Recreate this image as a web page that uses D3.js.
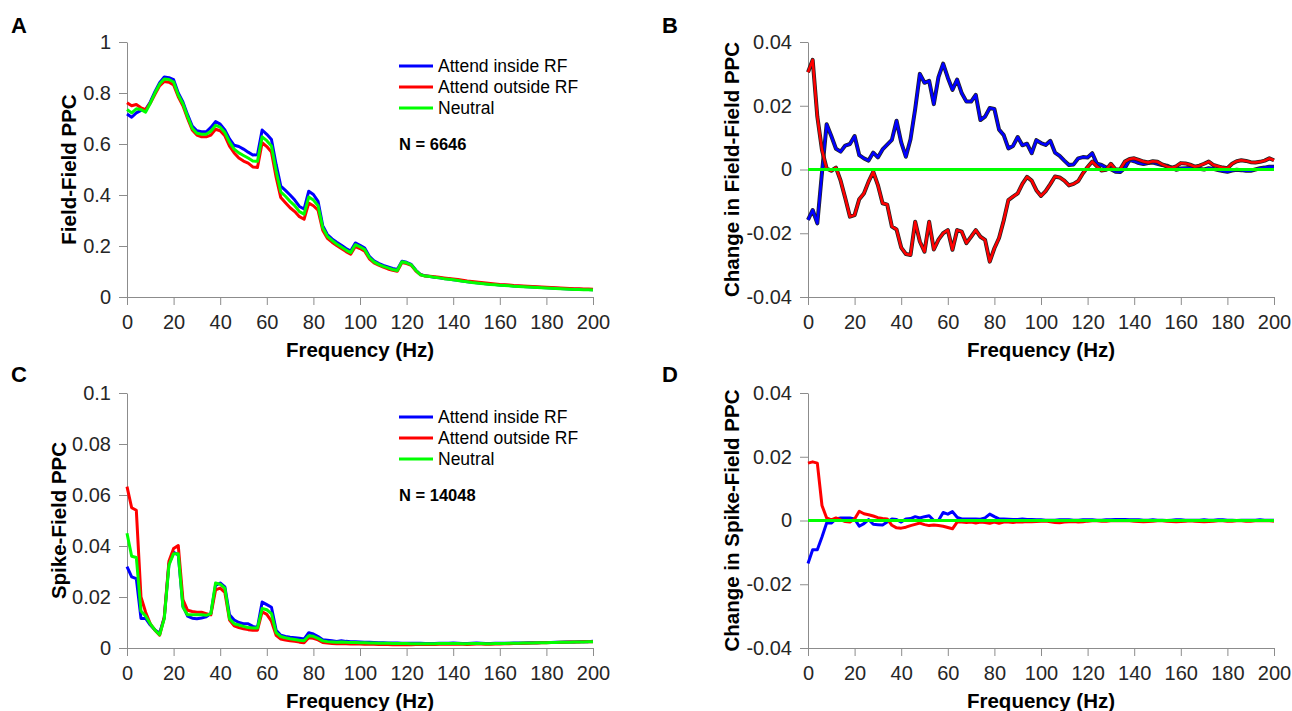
<!DOCTYPE html>
<html>
<head>
<meta charset="utf-8">
<script src="https://cdn.jsdelivr.net/npm/d3@7"></script>
<style>
  html, body { margin: 0; padding: 0; background: #fff; }
  svg { display: block; font-family: 'Liberation Sans', Arial, Helvetica, sans-serif; }
  .axis path, .axis line { stroke: #8c8c8c; stroke-width: 1; }
  .axis text { fill: #262626; font-size: 20px; font-family: 'Liberation Sans', Arial, Helvetica, sans-serif; }
  .title { font-weight: bold; font-size: 20.5px; fill: #000; }
  .letter { font-weight: bold; font-size: 22px; fill: #000; }
  .legend { font-size: 17.5px; fill: #000; }
  .count { font-weight: bold; font-size: 16.5px; fill: #000; }
</style>
</head>
<body>
<svg id="fig" width="1292" height="711"></svg>
<script>
// frequency axis (Hz)
const freqs = [
  0, 2, 4, 6, 8, 10, 12, 14, 16, 18, 20, 22, 24, 26, 28, 30, 32, 34, 36, 38,
  40, 42, 44, 46, 48, 50, 52, 54, 56, 58, 60, 62, 64, 66, 68, 70, 72, 74, 76, 78,
  80, 82, 84, 86, 88, 90, 92, 94, 96, 98, 100, 102, 104, 106, 108, 110, 112, 114, 116, 118,
  120, 122, 124, 126, 128, 130, 132, 134, 136, 138, 140, 142, 144, 146, 148, 150, 152, 154, 156, 158,
  160, 162, 164, 166, 168, 170, 172, 174, 176, 178, 180, 182, 184, 186, 188, 190, 192, 194, 196, 198, 200
]
const xTicks = [0, 20, 40, 60, 80, 100, 120, 140, 160, 180, 200]
const legendLabels = ['Attend inside RF', 'Attend outside RF', 'Neutral']

// A: field-field PPC
const ffInside = [
  0.718, 0.705, 0.722, 0.732, 0.735, 0.765, 0.805, 0.840, 0.863, 0.860,
  0.852, 0.800, 0.765, 0.715, 0.670, 0.652, 0.648, 0.648, 0.665, 0.688,
  0.678, 0.655, 0.620, 0.595, 0.590, 0.580, 0.568, 0.557, 0.558, 0.655,
  0.638, 0.618, 0.520, 0.435, 0.418, 0.400, 0.380, 0.355, 0.345, 0.415,
  0.402, 0.375, 0.280, 0.245, 0.228, 0.215, 0.203, 0.190, 0.180, 0.212,
  0.203, 0.192, 0.160, 0.142, 0.132, 0.124, 0.118, 0.112, 0.108, 0.140,
  0.136, 0.128, 0.105, 0.088, 0.083,
  0.080, 0.077, 0.075, 0.073, 0.071, 0.068, 0.066, 0.063, 0.060, 0.058,
  0.056, 0.054, 0.052, 0.050, 0.049, 0.047, 0.046, 0.045, 0.043, 0.042,
  0.041, 0.040, 0.039, 0.038, 0.037, 0.036, 0.035, 0.034, 0.033, 0.032,
  0.031, 0.030, 0.030, 0.029, 0.029, 0.028
]
const ffOutside = [
  0.762, 0.750, 0.755, 0.742, 0.735, 0.760, 0.795, 0.828, 0.845, 0.842,
  0.832, 0.785, 0.750, 0.700, 0.655, 0.635, 0.628, 0.628, 0.635, 0.658,
  0.652, 0.632, 0.592, 0.565, 0.545, 0.533, 0.525, 0.510, 0.508, 0.605,
  0.590, 0.568, 0.470, 0.390, 0.370, 0.350, 0.335, 0.315, 0.305, 0.368,
  0.358, 0.340, 0.262, 0.230, 0.215, 0.202, 0.190, 0.178, 0.168, 0.198,
  0.190, 0.180, 0.150, 0.134, 0.125, 0.117, 0.110, 0.105, 0.101, 0.135,
  0.131, 0.124, 0.102, 0.087, 0.082,
  0.081, 0.079, 0.077, 0.075, 0.073, 0.071, 0.069, 0.066, 0.063, 0.061,
  0.059, 0.057, 0.055, 0.053, 0.051, 0.049, 0.048, 0.047, 0.045, 0.044,
  0.043, 0.042, 0.041, 0.040, 0.039, 0.038, 0.037, 0.036, 0.035, 0.034,
  0.033, 0.032, 0.032, 0.031, 0.031, 0.030
]
const ffNeutral = [
  0.735, 0.722, 0.738, 0.735, 0.725, 0.760, 0.800, 0.835, 0.855, 0.853,
  0.843, 0.792, 0.758, 0.708, 0.662, 0.642, 0.638, 0.638, 0.650, 0.673,
  0.666, 0.645, 0.607, 0.580, 0.565, 0.555, 0.545, 0.533, 0.532, 0.628,
  0.613, 0.592, 0.495, 0.412, 0.395, 0.375, 0.358, 0.335, 0.325, 0.392,
  0.380, 0.358, 0.272, 0.238, 0.222, 0.208, 0.196, 0.184, 0.174, 0.205,
  0.197, 0.186, 0.155, 0.138, 0.128, 0.120, 0.114, 0.108, 0.104, 0.138,
  0.134, 0.126, 0.104, 0.087, 0.082,
  0.080, 0.077, 0.075, 0.072, 0.070, 0.068, 0.065, 0.062, 0.060, 0.057,
  0.055, 0.053, 0.051, 0.049, 0.048, 0.046, 0.045, 0.044, 0.042, 0.041,
  0.040, 0.039, 0.038, 0.037, 0.036, 0.035, 0.034, 0.033, 0.032, 0.031,
  0.030, 0.029, 0.029, 0.028, 0.028, 0.027
]

// B: change in field-field PPC
const ffChangeInside = [
  -0.0158, -0.0127, -0.0169, -0.0010, 0.0142, 0.0105, 0.0065, 0.0056, 0.0075, 0.0080,
  0.0105, 0.0045, 0.0035, 0.0028, 0.0053, 0.0038, 0.0063, 0.0078, 0.0093, 0.0153,
  0.0085, 0.0040, 0.0095, 0.0190, 0.0300, 0.0272, 0.0278, 0.0205, 0.0290, 0.0332,
  0.0288, 0.0250, 0.0282, 0.0239, 0.0213, 0.0213, 0.0234, 0.0155, 0.0166, 0.0193,
  0.0190, 0.0125, 0.0108, 0.0066, 0.0074, 0.0102, 0.0076, 0.0081, 0.0051, 0.0092,
  0.0083, 0.0077, 0.0090, 0.0053, 0.0043, 0.0028, 0.0014, 0.0016, 0.0035, 0.0039,
  0.0038, 0.0051, 0.0018, 0.0014, 0.0006, 0.0001, -0.0007, -0.0008, 0.0005, 0.0030,
  0.0026, 0.0020, 0.0017, 0.0020, 0.0022, 0.0018, 0.0014, 0.0012, 0.0006, -0.0001,
  0.0003, 0.0004, 0.0005, 0.0004, 0.0002, 0.0000, 0.0004, 0.0002, -0.0002, -0.0005,
  -0.0007, -0.0003, -0.0001, -0.0002, -0.0004, -0.0004, 0.0000, 0.0004, 0.0006, 0.0009, 0.0009
]
const ffChangeOutside = [
  0.0305, 0.0344, 0.0166, 0.0061, 0.0003, -0.0004, 0.0006, -0.0035, -0.0090, -0.0148,
  -0.0143, -0.0093, -0.0075, -0.0038, -0.0007, -0.0049, -0.0106, -0.0110, -0.0179, -0.0188,
  -0.0245, -0.0265, -0.0268, -0.0164, -0.0226, -0.0258, -0.0164, -0.0251, -0.0220, -0.0200,
  -0.0190, -0.0252, -0.0190, -0.0195, -0.0231, -0.0211, -0.0190, -0.0211, -0.0221, -0.0289,
  -0.0247, -0.0215, -0.0160, -0.0096, -0.0085, -0.0075, -0.0045, -0.0023, -0.0035, -0.0065,
  -0.0083, -0.0068, -0.0046, -0.0022, -0.0025, -0.0035, -0.0050, -0.0045, -0.0036, -0.0012,
  0.0008, 0.0025, 0.0010, -0.0003, -0.0001, 0.0018, 0.0000, 0.0001, 0.0025, 0.0033,
  0.0035, 0.0030, 0.0025, 0.0022, 0.0026, 0.0024, 0.0016, 0.0010, 0.0005, 0.0010,
  0.0020, 0.0019, 0.0015, 0.0009, 0.0012, 0.0018, 0.0025, 0.0014, 0.0010, 0.0006,
  0.0004, 0.0018, 0.0026, 0.0029, 0.0027, 0.0023, 0.0022, 0.0024, 0.0028, 0.0035, 0.0029
]

// C: spike-field PPC
const sfInside = [
  0.0319, 0.0279, 0.0272, 0.0116, 0.0116, 0.0090, 0.0071, 0.0058, 0.0120, 0.0330,
  0.0375, 0.0365, 0.0165, 0.0125, 0.0117, 0.0115, 0.0118, 0.0122, 0.0135, 0.0245,
  0.0255, 0.0240, 0.0130, 0.0110, 0.0100, 0.0095, 0.0095, 0.0085, 0.0080, 0.0180,
  0.0170, 0.0160, 0.0070, 0.0050, 0.0045, 0.0042, 0.0040, 0.0038, 0.0035, 0.0060,
  0.0055, 0.0045, 0.0032,
  0.0030, 0.0028, 0.0026, 0.0028, 0.0026, 0.0025, 0.0025, 0.0024, 0.0023, 0.0023,
  0.0022, 0.0021, 0.0021, 0.0020, 0.0020, 0.0020, 0.0019, 0.0019, 0.0019, 0.0019,
  0.0019, 0.0018, 0.0018, 0.0018, 0.0019, 0.0019, 0.0019, 0.0020, 0.0019, 0.0018,
  0.0018, 0.0019, 0.0020, 0.0019, 0.0018, 0.0018, 0.0019, 0.0019, 0.0019, 0.0019,
  0.0020, 0.0020, 0.0020, 0.0021, 0.0021, 0.0021, 0.0022, 0.0022, 0.0022, 0.0023,
  0.0023, 0.0024, 0.0024, 0.0024, 0.0025, 0.0025, 0.0025, 0.0026
]
const sfOutside = [
  0.0633, 0.0550, 0.0540, 0.0200, 0.0140, 0.0095, 0.0070, 0.0050, 0.0120, 0.0340,
  0.0390, 0.0402, 0.0190, 0.0148, 0.0143, 0.0140, 0.0140, 0.0135, 0.0130, 0.0228,
  0.0235, 0.0218, 0.0110, 0.0087, 0.0080, 0.0075, 0.0072, 0.0070, 0.0070, 0.0142,
  0.0132, 0.0105, 0.0050, 0.0035, 0.0031, 0.0028, 0.0026, 0.0023, 0.0021, 0.0040,
  0.0038, 0.0032, 0.0022,
  0.0020, 0.0018, 0.0017, 0.0018, 0.0017, 0.0016, 0.0016, 0.0016, 0.0015, 0.0015,
  0.0015, 0.0014, 0.0014, 0.0014, 0.0013, 0.0013, 0.0013, 0.0013, 0.0013, 0.0014,
  0.0014, 0.0014, 0.0014, 0.0014, 0.0015, 0.0015, 0.0015, 0.0015, 0.0015, 0.0015,
  0.0014, 0.0015, 0.0016, 0.0016, 0.0015, 0.0015, 0.0016, 0.0016, 0.0017, 0.0017,
  0.0018, 0.0018, 0.0019, 0.0019, 0.0020, 0.0020, 0.0021, 0.0021, 0.0022, 0.0022,
  0.0023, 0.0023, 0.0024, 0.0024, 0.0024, 0.0025, 0.0025, 0.0025
]
const sfNeutral = [
  0.0450, 0.0360, 0.0355, 0.0145, 0.0125, 0.0095, 0.0070, 0.0052, 0.0115, 0.0325,
  0.0370, 0.0370, 0.0160, 0.0130, 0.0130, 0.0130, 0.0130, 0.0128, 0.0135, 0.0255,
  0.0250, 0.0235, 0.0115, 0.0095, 0.0090, 0.0085, 0.0080, 0.0078, 0.0078, 0.0155,
  0.0150, 0.0135, 0.0060, 0.0045, 0.0040, 0.0036, 0.0033, 0.0030, 0.0028, 0.0048,
  0.0046, 0.0038, 0.0028,
  0.0025, 0.0024, 0.0023, 0.0024, 0.0023, 0.0022, 0.0022, 0.0021, 0.0021, 0.0020,
  0.0020, 0.0019, 0.0019, 0.0019, 0.0018, 0.0018, 0.0018, 0.0018, 0.0017, 0.0017,
  0.0017, 0.0017, 0.0017, 0.0017, 0.0018, 0.0018, 0.0018, 0.0018, 0.0018, 0.0017,
  0.0017, 0.0018, 0.0018, 0.0018, 0.0017, 0.0017, 0.0018, 0.0018, 0.0018, 0.0019,
  0.0019, 0.0019, 0.0020, 0.0020, 0.0020, 0.0021, 0.0021, 0.0021, 0.0022, 0.0022,
  0.0023, 0.0023, 0.0023, 0.0024, 0.0024, 0.0024, 0.0025, 0.0025
]

// D: change in spike-field PPC
const sfChangeInside = [
  -0.0135, -0.0092, -0.0092, -0.0052, -0.0008, -0.0008, 0.0005, 0.0008, 0.0008, 0.0008,
  0.0005, -0.0018, -0.0010, 0.0003, -0.0012, -0.0013, -0.0014, -0.0005, 0.0005, 0.0003,
  -0.0005, 0.0005, 0.0006, 0.0012, 0.0008, 0.0012, 0.0015, 0.0000, 0.0000, 0.0025,
  0.0020, 0.0028, 0.0010, 0.0005, 0.0005, 0.0005, 0.0005, 0.0004, 0.0008, 0.0020,
  0.0012, 0.0005, 0.0005,
  0.0004, 0.0003, 0.0003, 0.0005, 0.0003, 0.0003, 0.0002, 0.0002, 0.0001, 0.0001,
  0.0001, 0.0002, 0.0002, 0.0002, 0.0001, 0.0001, 0.0002, 0.0002, 0.0002, 0.0001,
  0.0001, 0.0002, 0.0002, 0.0003, 0.0003, 0.0003, 0.0002, 0.0002, 0.0002, 0.0001,
  0.0001, 0.0002, 0.0001, 0.0001, 0.0000, 0.0001, 0.0002, 0.0002, 0.0001, 0.0001,
  0.0001, 0.0001, 0.0002, 0.0001, 0.0001, 0.0002, 0.0002, 0.0001, 0.0001, 0.0000,
  0.0001, 0.0001, 0.0001, 0.0001, 0.0002, 0.0001, 0.0001, 0.0001
]
const sfChangeOutside = [
  0.0180, 0.0184, 0.0180, 0.0047, 0.0008, 0.0002, 0.0008, 0.0002, -0.0003, -0.0005,
  0.0005, 0.0029, 0.0021, 0.0018, 0.0014, 0.0009, 0.0006, 0.0005, -0.0015, -0.0023,
  -0.0024, -0.0021, -0.0016, -0.0012, -0.0008, -0.0013, -0.0016, -0.0014, -0.0016, -0.0018,
  -0.0022, -0.0026, -0.0005, -0.0005, -0.0006, -0.0005, -0.0008, -0.0005, -0.0006, -0.0009,
  -0.0005, -0.0009, -0.0005,
  -0.0005, -0.0006, -0.0004, -0.0005, -0.0003, -0.0004, -0.0003, -0.0002, -0.0002, -0.0004,
  -0.0006, -0.0007, -0.0005, -0.0004, -0.0003, -0.0005, -0.0004, -0.0002, -0.0001, -0.0001,
  -0.0002, -0.0002, -0.0001, -0.0001, 0.0000, -0.0001, -0.0001, -0.0002, -0.0003, -0.0004,
  -0.0003, -0.0002, -0.0001, -0.0001, -0.0002, -0.0003, -0.0004, -0.0003, -0.0002, -0.0001,
  -0.0002, -0.0003, -0.0004, -0.0003, -0.0002, -0.0001, -0.0001, -0.0002, -0.0002, -0.0001,
  -0.0001, -0.0002, -0.0002, -0.0001, -0.0001, 0.0000, -0.0001, -0.0002
]

// neutral is the reference for the change panels
const neutralFreqs = [0, 200]
const neutralChange = [0, 0]

const colors = ['#0000ff', '#ff0000', '#00ff00']
const svg = d3.select('#fig')
const fmt = d => String(+d.toFixed(2))

function drawPanel(opt) {
  const x = d3.scaleLinear().domain([0, 200]).range([opt.left, opt.right]),
    y = d3.scaleLinear().domain(opt.yDomain).range([opt.bottom, opt.top]),
    g = svg.append('g')

  g.append('g')
    .attr('class', 'axis')
    .attr('transform', `translate(0,${opt.bottom})`)
    .call(d3.axisBottom(x).tickValues(xTicks).tickSize(8).tickSizeOuter(0).tickPadding(10).tickFormat(fmt))
  g.append('g')
    .attr('class', 'axis')
    .attr('transform', `translate(${opt.left},0)`)
    .call(d3.axisLeft(y).tickValues(opt.yTicks).tickSize(8).tickSizeOuter(0).tickPadding(8).tickFormat(fmt))

  const line = xs => d3.line()
    .x((d, i) => x(xs[i]))
    .y(d => y(d))

  opt.series.forEach((s, i) => {
    const xs = s.freqs || freqs,
      banded = opt.halo && !s.freqs
    // error band edges drawn as a dark halo
    if (banded) {
      g.append('path')
        .attr('d', line(xs)(s.values))
        .attr('fill', 'none')
        .attr('stroke', '#222')
        .attr('stroke-width', 4)
        .attr('stroke-linejoin', 'round')
    }
    g.append('path')
      .attr('d', line(xs)(s.values))
      .attr('fill', 'none')
      .attr('stroke', colors[i])
      .attr('stroke-width', banded ? 2.5 : 3)
      .attr('stroke-linejoin', 'round')
  })

  g.append('text')
    .attr('class', 'title')
    .attr('text-anchor', 'middle')
    .attr('x', (opt.left + opt.right) / 2)
    .attr('y', opt.bottom + 60)
    .text('Frequency (Hz)')
  g.append('text')
    .attr('class', 'title')
    .attr('text-anchor', 'middle')
    .attr('transform', `translate(${opt.yTitleX},${(opt.top + opt.bottom) / 2}) rotate(-90)`)
    .text(opt.yTitle)
  g.append('text')
    .attr('class', 'letter')
    .attr('x', opt.letterX)
    .attr('y', opt.letterY)
    .text(opt.letter)

  if (opt.legend) {
    const lg = g.append('g').attr('transform', `translate(${opt.legend[0]},${opt.legend[1]})`)
    legendLabels.forEach((label, i) => {
      lg.append('line')
        .attr('x1', 0).attr('x2', 34)
        .attr('y1', i * 21).attr('y2', i * 21)
        .attr('stroke', colors[i])
        .attr('stroke-width', 3)
      lg.append('text')
        .attr('class', 'legend')
        .attr('x', 39)
        .attr('y', i * 21)
        .attr('dy', '0.35em')
        .text(label)
    })
    lg.append('text')
      .attr('class', 'count')
      .attr('x', 0)
      .attr('y', 78)
      .attr('dy', '0.35em')
      .text(opt.count)
  }
}

drawPanel({
  letter: 'A', letterX: 11, letterY: 33,
  left: 127, right: 593, top: 42, bottom: 297,
  yDomain: [0, 1], yTicks: [0, 0.2, 0.4, 0.6, 0.8, 1],
  yTitle: 'Field-Field PPC', yTitleX: 76,
  series: [{values: ffInside}, {values: ffOutside}, {values: ffNeutral}],
  legend: [399, 66], count: 'N = 6646'
})
drawPanel({
  letter: 'B', letterX: 662, letterY: 33,
  left: 808, right: 1274, top: 42, bottom: 297,
  yDomain: [-0.04, 0.04], yTicks: [-0.04, -0.02, 0, 0.02, 0.04],
  yTitle: 'Change in Field-Field PPC', yTitleX: 739,
  halo: true,
  series: [{values: ffChangeInside}, {values: ffChangeOutside}, {values: neutralChange, freqs: neutralFreqs}]
})
drawPanel({
  letter: 'C', letterX: 11, letterY: 382,
  left: 127, right: 593, top: 393, bottom: 648,
  yDomain: [0, 0.1], yTicks: [0, 0.02, 0.04, 0.06, 0.08, 0.1],
  yTitle: 'Spike-Field PPC', yTitleX: 66,
  series: [{values: sfInside}, {values: sfOutside}, {values: sfNeutral}],
  legend: [399, 417], count: 'N = 14048'
})
drawPanel({
  letter: 'D', letterX: 662, letterY: 382,
  left: 808, right: 1274, top: 393, bottom: 648,
  yDomain: [-0.04, 0.04], yTicks: [-0.04, -0.02, 0, 0.02, 0.04],
  yTitle: 'Change in Spike-Field PPC', yTitleX: 739,
  series: [{values: sfChangeInside}, {values: sfChangeOutside}, {values: neutralChange, freqs: neutralFreqs}]
})
</script>
</body>
</html>
